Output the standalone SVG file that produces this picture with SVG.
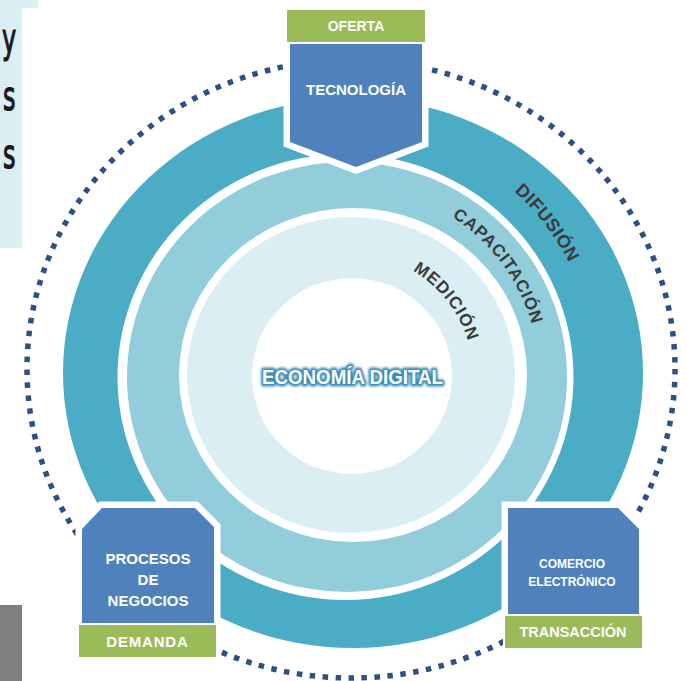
<svg xmlns="http://www.w3.org/2000/svg" width="687" height="681" viewBox="0 0 687 681">
<style>
.lbl{font-family:"Liberation Sans",Arial,sans-serif;font-weight:bold;fill:#ffffff;text-anchor:middle}
.ring{font-family:"Liberation Sans",Arial,sans-serif;font-weight:bold;fill:#3a3a3a;text-anchor:middle}
.blue{fill:#4f81bd;stroke:#ffffff;stroke-width:13;stroke-linejoin:miter;paint-order:stroke}
.green{fill:#9bbb59;stroke:#ffffff;stroke-width:2}
.gap{fill:#ffffff}
</style>
<defs>
<filter id="glow" x="-10%" y="-40%" width="120%" height="180%">
<feGaussianBlur stdDeviation="1.3"/>
</filter>
<path id="pDif" d="M443.5,146.8 A247,247 0 0 1 593.9,342.8"/>
<path id="pCap" d="M410,196.8 A189,189 0 0 1 538.9,371.1"/>
<path id="pMed" d="M376.4,256.7 A122,122 0 0 1 472.9,380.3"/>
</defs>
<rect width="687" height="681" fill="#ffffff"/>
<g id="side-panel">
<rect x="0" y="0" width="38" height="8" fill="#daeef3"/>
<rect x="0" y="0" width="22" height="248" fill="#daeef3"/>
<g font-family="DejaVu Sans,sans-serif" font-size="40" fill="#1a1a1a" stroke="#1a1a1a" stroke-width="1.2">
<text transform="translate(2,52) scale(0.6,1)">y</text>
<text transform="translate(3,110) scale(0.6,1)">s</text>
<text transform="translate(3,168) scale(0.6,1)">s</text>
</g>
<rect x="0" y="605" width="22" height="76" fill="#7f7f7f"/>
</g>
<g id="connectors">
<ellipse cx="351" cy="369" rx="324" ry="309" fill="none" stroke="#2d5085" stroke-width="5.5" stroke-dasharray="5.5 7.5"/>
</g>
<g id="rings">
<ellipse cx="353" cy="373" rx="290" ry="275" fill="#4bacc6"/>
<ellipse class="gap" cx="345.5" cy="377" rx="228" ry="223"/>
<ellipse cx="347" cy="377" rx="220" ry="215" fill="#92cddc"/>
<ellipse class="gap" cx="353" cy="375" rx="174" ry="167"/>
<ellipse cx="351" cy="375" rx="164" ry="158" fill="#daeef3"/>
<ellipse cx="352" cy="376" rx="100" ry="98" fill="#ffffff"/>
<text class="ring" font-size="18" letter-spacing="0.6"><textPath href="#pDif" startOffset="50%">DIFUSIÓN</textPath></text>
<text class="ring" font-size="17" letter-spacing="0.8"><textPath href="#pCap" startOffset="50%">CAPACITACIÓN</textPath></text>
<text class="ring" font-size="17" letter-spacing="0.9"><textPath href="#pMed" startOffset="50%">MEDICIÓN</textPath></text>
</g>
<g id="node-center">
<text x="352.5" y="384" font-family="Liberation Sans,Arial,sans-serif" font-weight="bold" font-size="21" text-anchor="middle" textLength="181" lengthAdjust="spacingAndGlyphs" fill="#3a8db8" stroke="#3a8db8" stroke-width="5" stroke-linejoin="round" filter="url(#glow)">ECONOMÍA DIGITAL</text>
<text x="352.5" y="384" font-family="Liberation Sans,Arial,sans-serif" font-weight="bold" font-size="21" text-anchor="middle" textLength="181" lengthAdjust="spacingAndGlyphs" fill="#ffffff">ECONOMÍA DIGITAL</text>
</g>
<g id="node-tecnologia">
<polygon class="blue" points="290,43 422,43 422,142 356,167 290,142"/>
<rect class="green" x="286" y="9" width="140" height="34"/>
<text class="lbl" x="356" y="31" font-size="14">OFERTA</text>
<text class="lbl" x="356" y="95" font-size="15">TECNOLOGÍA</text>
</g>
<g id="node-procesos">
<polygon class="blue" points="102,508 195,508 214,527 214,624 82,624 82,529"/>
<rect class="green" x="78" y="624" width="139" height="34"/>
<text class="lbl" x="148" y="563.5" font-size="15">PROCESOS</text>
<text class="lbl" x="148" y="585" font-size="15">DE</text>
<text class="lbl" x="148" y="606" font-size="15">NEGOCIOS</text>
<text class="lbl" x="147.5" y="647" font-size="15" letter-spacing="0.8">DEMANDA</text>
</g>
<g id="node-comercio">
<polygon class="blue" points="508,508 618,508 639,529 639,615 508,615"/>
<rect class="green" x="504" y="615" width="139" height="34"/>
<text class="lbl" x="572" y="568" font-size="12">COMERCIO</text>
<text class="lbl" x="572" y="586" font-size="12">ELECTRÓNICO</text>
<text class="lbl" x="573" y="637" font-size="14.5">TRANSACCIÓN</text>
</g>
</svg>
